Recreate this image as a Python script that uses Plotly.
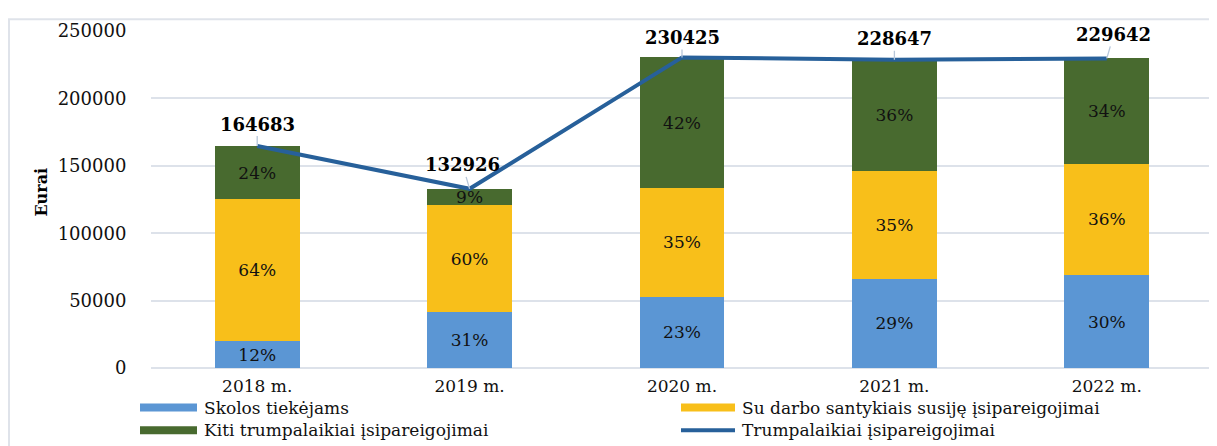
import plotly.graph_objects as go

# ---- data ----
categories = ["2018 m.", "2019 m.", "2020 m.", "2021 m.", "2022 m."]
skolos = [19762, 41207, 52998, 66308, 68893]
darbo = [105397, 79756, 80649, 80026, 82671]
kiti = [39524, 11963, 96779, 82313, 78078]
total = [164683, 132926, 230425, 228647, 229642]
pct_skolos = ["12%", "31%", "23%", "29%", "30%"]
pct_darbo = ["64%", "60%", "35%", "35%", "36%"]
pct_kiti = ["24%", "9%", "42%", "36%", "34%"]
y_ticks = [0, 50000, 100000, 150000, 200000, 250000]

names = ["Skolos tiekėjams", "Su darbo santykiais susiję įsipareigojimai",
         "Kiti trumpalaikiai įsipareigojimai", "Trumpalaikiai įsipareigojimai"]

# ---- style ----
W, H = 1217, 446
OFF = 8  # page body margin
# plot area in screen pixels (reference), converted to figure pixels
L, R, T, B = 151 - OFF, 1213 - OFF, 27 - OFF, 368 - OFF
FONT = "DejaVu Serif"
C_BLUE, C_YEL, C_GRN, C_LINE = "#5b96d4", "#f8bf1a", "#486a2f", "#27609a"
GRID = "#dde2ea"

def px(x):
    # screen x -> paper
    return (x - OFF - L) / (R - L)

def py(y):
    # screen y -> paper
    return (B - (y - OFF)) / (B - T)

fig = go.Figure()
for vals, txt, col, nm in [(skolos, pct_skolos, C_BLUE, names[0]),
                           (darbo, pct_darbo, C_YEL, names[1]),
                           (kiti, pct_kiti, C_GRN, names[2])]:
    fig.add_trace(go.Bar(
        x=categories, y=vals, name=nm, text=txt,
        marker=dict(color=col, line=dict(width=0)),
        textposition="inside", insidetextanchor="middle", textangle=0,
        constraintext="none",
        textfont=dict(family=FONT, size=17, color="#111111"),
        showlegend=False,
    ))

fig.add_trace(go.Scatter(
    x=categories, y=total, mode="lines", name=names[3],
    line=dict(color=C_LINE, width=4), showlegend=False,
))

# value labels on the line
label_off = [(0, -22), (-7, -24), (0, -20), (0, -21), (7, -24)]
for c, v, (ax, ay) in zip(categories, total, label_off):
    fig.add_annotation(
        x=c, y=v, xref="x", yref="y", text=f"<b>{v}</b>",
        showarrow=True, arrowhead=0, arrowwidth=1.3, arrowcolor="#b7c7da",
        ax=ax, ay=ay, standoff=0,
        font=dict(family=FONT, size=18, color="#000000"),
    )

# axis title
fig.add_annotation(
    xref="paper", yref="paper", x=px(30), y=py(190), text="<b>Eurai</b>",
    textangle=-90, showarrow=False, font=dict(family=FONT, size=16, color="#000000"),
)

# custom legend (wide swatches)
leg = [
    (140, 197, 408, C_BLUE, "bar", names[0]),
    (681, 735, 408, C_YEL, "bar", names[1]),
    (140, 197, 431, C_GRN, "bar", names[2]),
    (681, 735, 431, C_LINE, "line", names[3]),
]
for x0, x1, yc, col, kind, nm in leg:
    if kind == "bar":
        fig.add_shape(type="rect", xref="paper", yref="paper",
                      x0=px(x0), x1=px(x1), y0=py(yc + 4), y1=py(yc - 4),
                      fillcolor=col, line=dict(width=0))
    else:
        fig.add_shape(type="line", xref="paper", yref="paper",
                      x0=px(x0), x1=px(x1), y0=py(yc), y1=py(yc),
                      line=dict(color=col, width=4))
    fig.add_annotation(xref="paper", yref="paper", x=px(x1 + 5), y=py(yc),
                       xanchor="left", yanchor="middle", text=nm, showarrow=False,
                       font=dict(family=FONT, size=17, color="#111111"))

# chart border (top and left visible)
fig.add_shape(type="line", xref="paper", yref="paper", x0=px(8), x1=px(1225),
              y0=py(15), y1=py(15), line=dict(color="#dfe3ea", width=2))
fig.add_shape(type="line", xref="paper", yref="paper", x0=px(9), x1=px(9),
              y0=py(15), y1=py(460), line=dict(color="#dfe3ea", width=2))

fig.update_layout(
    width=W, height=H,
    margin=dict(l=L, r=W - R, t=T, b=H - B),
    paper_bgcolor="white", plot_bgcolor="white",
    barmode="stack", bargap=0.6,
    showlegend=False,
    font=dict(family=FONT, color="#111111"),
)
fig.update_xaxes(
    showgrid=False, zeroline=False, showline=False,
    ticks="outside", ticklen=3, tickcolor="rgba(0,0,0,0)",
    tickfont=dict(family=FONT, size=17, color="#111111"),
)
fig.update_yaxes(
    range=[0, 250000], tickvals=y_ticks, ticktext=[str(t) for t in y_ticks],
    showgrid=True, gridcolor=GRID, gridwidth=1.5,
    zeroline=True, zerolinecolor=GRID, zerolinewidth=1.5, showline=False,
    ticks="outside", ticklen=20, tickcolor="rgba(0,0,0,0)",
    tickfont=dict(family=FONT, size=18, color="#111111"),
)

fig.write_html("out.html")
